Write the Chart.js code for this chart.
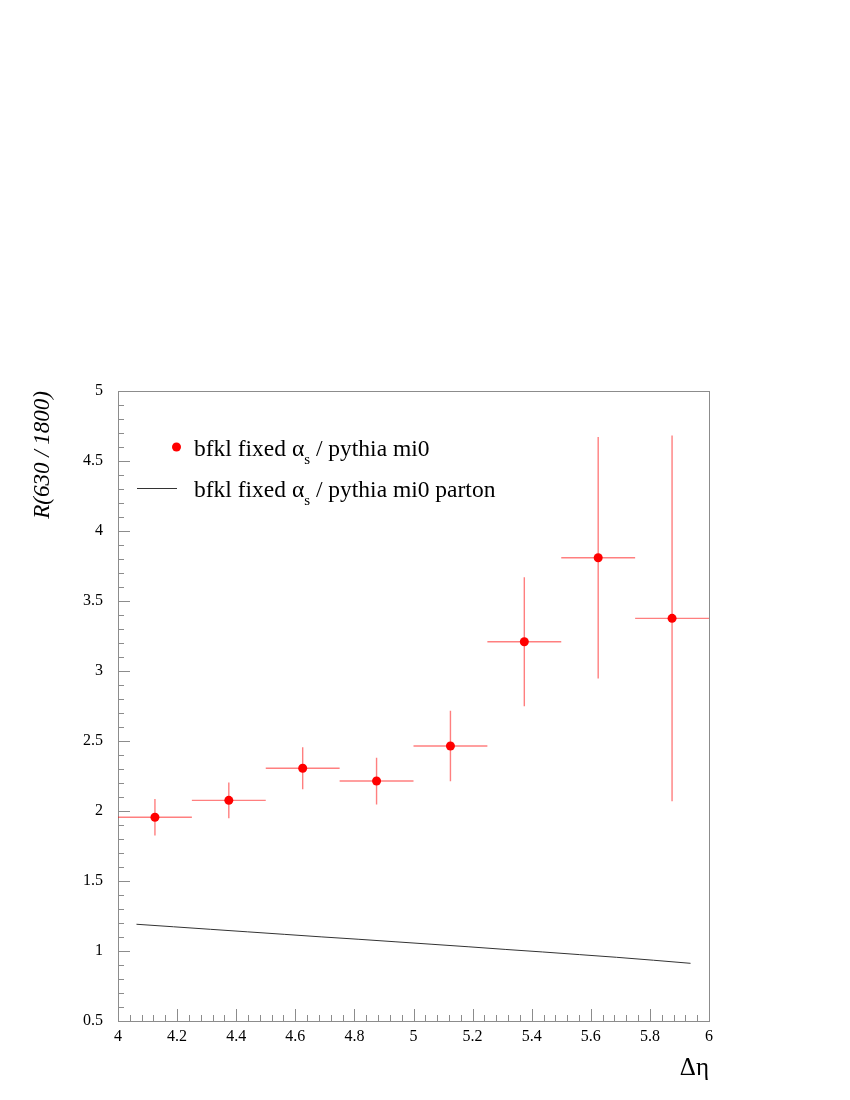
<!DOCTYPE html>
<html>
<head>
<meta charset="utf-8">
<script src="https://cdn.jsdelivr.net/npm/chart.js@4/dist/chart.umd.min.js"></script>
<style>
  body { margin: 0; background: #fff; }
  #wrap { width: 850px; height: 1100px; }
</style>
</head>
<body>
<div id="wrap"><canvas id="ratio" width="850" height="1100"></canvas></div>
<script>
// Data: bfkl fixed alpha_s / pythia mi0, in bins of delta eta
const binCenters = [4.125, 4.375, 4.625, 4.875, 5.125, 5.375, 5.625, 5.875];
const binHalfWidths = [0.125, 0.125, 0.125, 0.125, 0.125, 0.125, 0.125, 0.125];
const ratioValues = [1.955, 2.076, 2.305, 2.214, 2.464, 3.209, 3.809, 3.376];
const ratioErrors = [0.13, 0.127, 0.15, 0.167, 0.252, 0.46, 0.863, 1.306];

// Data: parton level curve
const partonX = [4.0625, 4.1875, 4.3125, 4.4375, 4.5625, 4.6875, 4.8125, 4.9375,
                 5.0625, 5.1875, 5.3125, 5.4375, 5.5625, 5.6875, 5.8125, 5.9375];
const partonValues = [1.191, 1.173, 1.155, 1.137, 1.119, 1.101, 1.084, 1.066,
                      1.048, 1.030, 1.011, 0.993, 0.974, 0.955, 0.934, 0.912];

// Tick labels
const xTickValues = [4, 4.2, 4.4, 4.6, 4.8, 5, 5.2, 5.4, 5.6, 5.8, 6];
const yTickValues = [0.5, 1, 1.5, 2, 2.5, 3, 3.5, 4, 4.5, 5];

const legendLabels = ["bfkl fixed \u03b1|s| / pythia mi0", "bfkl fixed \u03b1|s| / pythia mi0 parton"];

const serif = '"Liberation Serif", "DejaVu Serif", serif';
const frameColor = "#8c8c8c";
const errorColor = "rgba(255, 0, 0, 0.5)";

// Frame and inward ticks, ROOT style
const framePlugin = {
    id: "frame",
    beforeDatasetsDraw(chart) {
        const ctx = chart.ctx;
        const area = chart.chartArea;
        const xs = chart.scales.x;
        const ys = chart.scales.y;
        ctx.save();
        ctx.strokeStyle = frameColor;
        ctx.lineWidth = 1;
        ctx.strokeRect(Math.round(area.left) + 0.5, Math.round(area.top) + 0.5,
            Math.round(area.right - area.left), Math.round(area.bottom - area.top));

        ctx.beginPath();
        // y ticks
        for (let i = 0; i < yTickValues.length; i++) {
            let py = Math.round(ys.getPixelForValue(yTickValues[i])) + 0.5;
            ctx.moveTo(area.left, py);
            ctx.lineTo(area.left + 12, py);
            if (i < yTickValues.length - 1) {
                let step = (yTickValues[i + 1] - yTickValues[i]) / 5;
                for (let k = 1; k < 5; k++) {
                    let my = Math.round(ys.getPixelForValue(yTickValues[i] + k * step)) + 0.5;
                    ctx.moveTo(area.left, my);
                    ctx.lineTo(area.left + 6, my);
                }
            }
        }
        // x ticks
        for (let i = 0; i < xTickValues.length; i++) {
            let px = Math.round(xs.getPixelForValue(xTickValues[i])) + 0.5;
            ctx.moveTo(px, area.bottom);
            ctx.lineTo(px, area.bottom - 12);
            if (i < xTickValues.length - 1) {
                let step = (xTickValues[i + 1] - xTickValues[i]) / 5;
                for (let k = 1; k < 5; k++) {
                    let mx = Math.round(xs.getPixelForValue(xTickValues[i] + k * step)) + 0.5;
                    ctx.moveTo(mx, area.bottom);
                    ctx.lineTo(mx, area.bottom - 6);
                }
            }
        }
        ctx.stroke();

        // error bars
        ctx.strokeStyle = errorColor;
        ctx.lineWidth = 1.4;
        ctx.beginPath();
        binCenters.forEach((x, i) => {
            let px = xs.getPixelForValue(x);
            let py = ys.getPixelForValue(ratioValues[i]);
            ctx.moveTo(xs.getPixelForValue(x - binHalfWidths[i]), py);
            ctx.lineTo(xs.getPixelForValue(x + binHalfWidths[i]), py);
            ctx.moveTo(px, ys.getPixelForValue(ratioValues[i] + ratioErrors[i]));
            ctx.lineTo(px, ys.getPixelForValue(ratioValues[i] - ratioErrors[i]));
        });
        ctx.stroke();
        ctx.restore();
    }
};

// Draw text with |sub| parts as subscripts
function drawRichText(ctx, text, x, y) {
    let parts = text.split("|");
    parts.forEach((part, i) => {
        if (i % 2 === 1) {
            ctx.font = "15px " + serif;
            ctx.fillText(part, x, y + 8);
        } else {
            ctx.font = "23.5px " + serif;
            ctx.fillText(part, x, y);
        }
        x += ctx.measureText(part).width;
    });
}

// Legend inside the frame
const legendPlugin = {
    id: "rootLegend",
    afterDatasetsDraw(chart) {
        const ctx = chart.ctx;
        ctx.save();
        ctx.fillStyle = "red";
        ctx.beginPath();
        ctx.arc(176.5, 447, 4.5, 0, Math.PI * 2);
        ctx.fill();
        ctx.strokeStyle = "#333";
        ctx.lineWidth = 1;
        ctx.beginPath();
        ctx.moveTo(137, 488.5);
        ctx.lineTo(177, 488.5);
        ctx.stroke();
        ctx.fillStyle = "#000";
        ctx.textBaseline = "alphabetic";
        drawRichText(ctx, legendLabels[0], 194, 456);
        drawRichText(ctx, legendLabels[1], 194, 497);
        ctx.restore();
    }
};

let canvas = document.getElementById("ratio").getContext("2d");
let chart = new Chart(canvas, {
    type: "scatter",
    data: {
        datasets: [
            {
                label: "bfkl fixed alpha_s / pythia mi0",
                data: binCenters.map((x, i) => ({ x: x, y: ratioValues[i] })),
                pointRadius: 4.5,
                pointBackgroundColor: "red",
                pointBorderWidth: 0,
                showLine: false
            },
            {
                label: "bfkl fixed alpha_s / pythia mi0 parton",
                data: partonX.map((x, i) => ({ x: x, y: partonValues[i] })),
                showLine: true,
                pointRadius: 0,
                borderColor: "#333",
                borderWidth: 1,
                tension: 0
            }
        ]
    },
    plugins: [framePlugin, legendPlugin],
    options: {
        responsive: false,
        animation: false,
        layout: { padding: { left: 0, top: 391, right: 141, bottom: 0 } },
        plugins: {
            legend: { display: false },
            tooltip: { enabled: false }
        },
        scales: {
            x: {
                type: "linear",
                min: 4,
                max: 6,
                afterFit(scale) { scale.height = 79; },
                afterBuildTicks(scale) { scale.ticks = xTickValues.map(v => ({ value: v })); },
                grid: { display: false },
                border: { display: false },
                ticks: {
                    autoSkip: false,
                    maxRotation: 0,
                    padding: -2,
                    color: "#000",
                    font: { family: serif, size: 16 },
                    callback: v => String(+v.toFixed(2))
                },
                title: {
                    display: true,
                    text: "\u0394\u03b7",
                    align: "end",
                    color: "#000",
                    font: { family: serif, size: 25 },
                    padding: { top: 0, bottom: 17 }
                }
            },
            y: {
                type: "linear",
                min: 0.5,
                max: 5,
                afterFit(scale) { scale.width = 118; },
                afterBuildTicks(scale) { scale.ticks = yTickValues.map(v => ({ value: v })); },
                grid: { display: false },
                border: { display: false },
                ticks: {
                    autoSkip: false,
                    padding: 7,
                    color: "#000",
                    font: { family: serif, size: 16 },
                    callback: v => String(+v.toFixed(2))
                },
                title: {
                    display: true,
                    text: "R(630 / 1800)",
                    align: "end",
                    color: "#000",
                    font: { family: serif, size: 23, style: "italic" },
                    padding: { top: 29, bottom: 0 }
                }
            }
        }
    }
});
</script>
</body>
</html>
